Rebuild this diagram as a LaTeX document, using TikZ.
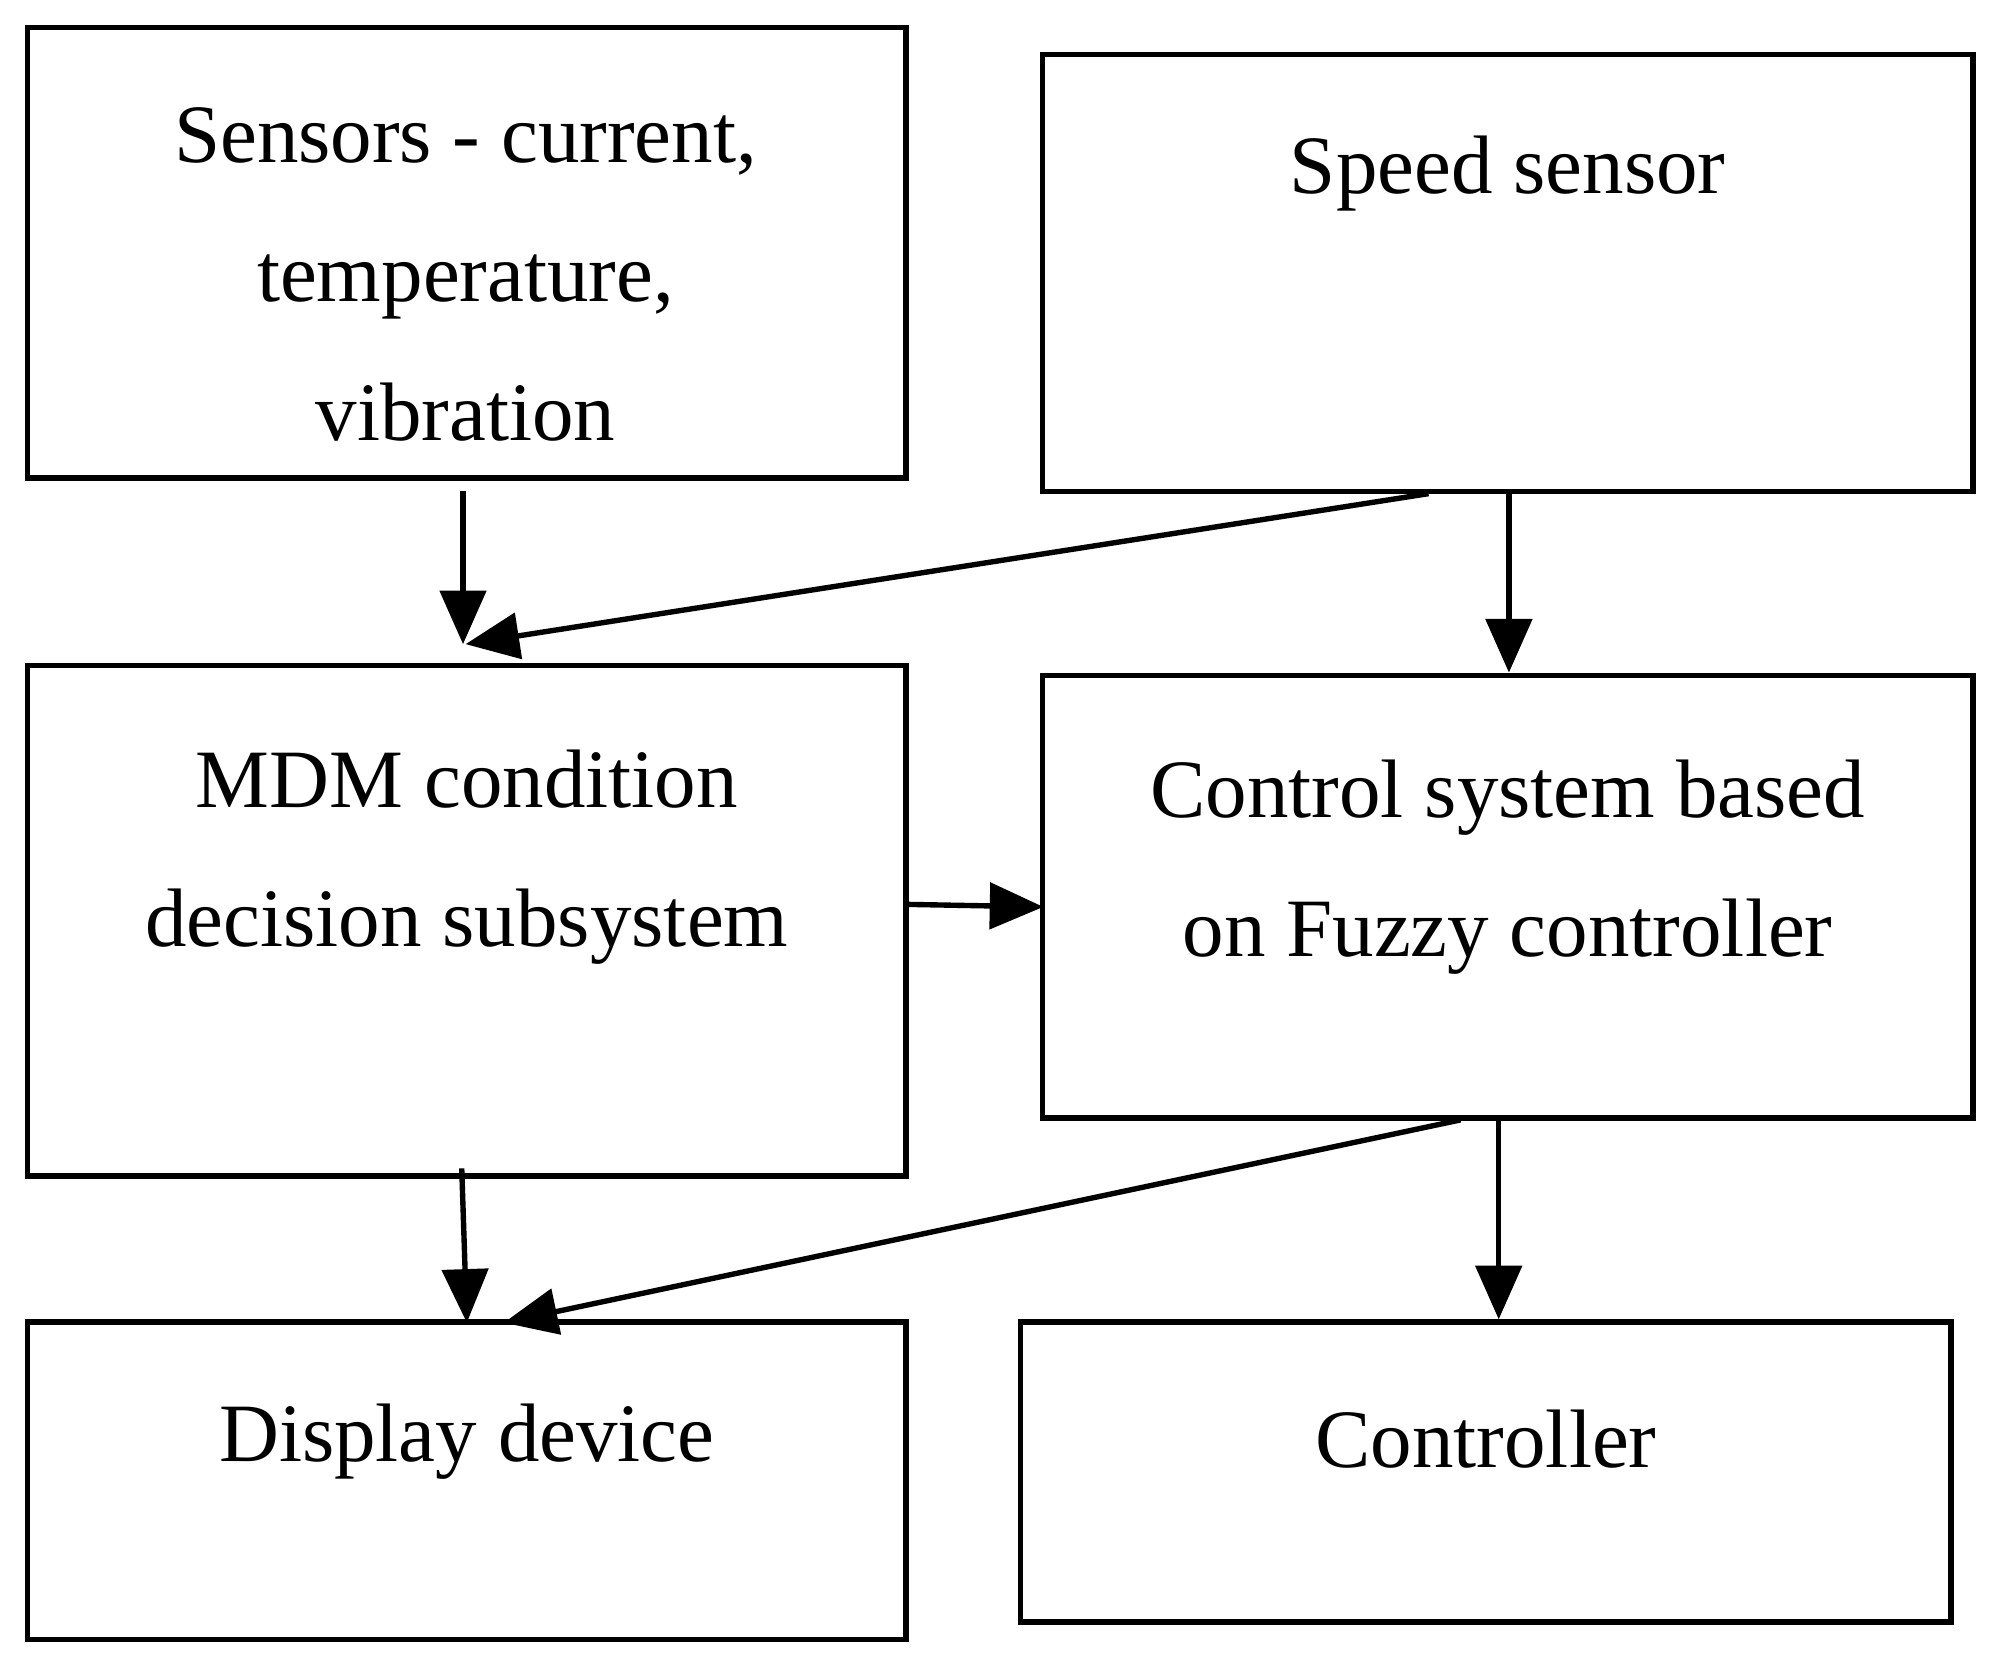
\documentclass[tikz,border=0pt]{standalone}
\usepackage{fontspec}
\setmainfont{Liberation Serif}
\usetikzlibrary{arrows.meta}
\usetikzlibrary{calc}

\tikzset{
	block/.style={draw,line width=1.2pt,rectangle,inner sep=0pt},
	label/.style={align=center,font=\fontsize{18.5}{31}\selectfont},
	flow/.style={line width=1.2pt,-{Triangle[length=0.42cm,width=0.36cm]}}
}

\begin{document}
\begin{tikzpicture}[x=0.01cm,y=-0.01cm]
		\useasboundingbox (0,0) rectangle (1568,1308);

		\node [block,minimum width=6.88cm,minimum height=3.53cm] (sensors) at (366,198) {};
		\node [block,minimum width=7.29cm,minimum height=3.42cm] (speed) at (1182,214) {};
		\node [block,minimum width=6.88cm,minimum height=4.00cm] (mdm) at (366,722) {};
		\node [block,minimum width=7.29cm,minimum height=3.47cm] (control) at (1182,703) {};
		\node [block,minimum width=6.88cm,minimum height=2.49cm] (display) at (366,1161) {};
		\node [block,minimum width=7.29cm,minimum height=2.35cm] (ctrl) at (1165,1154) {};

		\node [label] (sensorstext) at (365,215) {Sensors - current,\\temperature,\\vibration};
		\node [label] (speedtext) at (1182,136) {Speed sensor};
		\node [label] (mdmtext) at (366,672) {MDM condition\\decision subsystem};
		\node [label] (controltext) at (1182,680) {Control system based\\on Fuzzy controller};
		\node [label] (displaytext) at (366,1130) {Display device};
		\node [label] (ctrltext) at (1165,1128) {Controller};

		\coordinate (s1) at (363,385);
		\coordinate (s2) at (1120,387);
		\coordinate (s3) at (1183,387);
		\coordinate (m1) at (710,709);
		\coordinate (m2) at (362,916);
		\coordinate (c1) at (1145,878);
		\coordinate (c2) at (1175,878);
		\coordinate (mdmin) at (363,505);
		\coordinate (mdmin2) at (365,505);
		\coordinate (ctrlin) at (818,711);
		\coordinate (dispin) at (395,1037);
		\coordinate (dispin2) at (366,1037);

		\draw [flow] (s1) -- (mdmin);
		\draw [flow] (s2) -- (mdmin2);
		\draw [flow] (s3) -- (control.north -| s3);
		\draw [flow] (m1) -- (ctrlin);
		\draw [flow] (m2) -- (dispin2);
		\draw [flow] (c1) -- (dispin);
		\draw [flow] (c2) -- (ctrl.north -| c2);
	\end{tikzpicture}
\end{document}
